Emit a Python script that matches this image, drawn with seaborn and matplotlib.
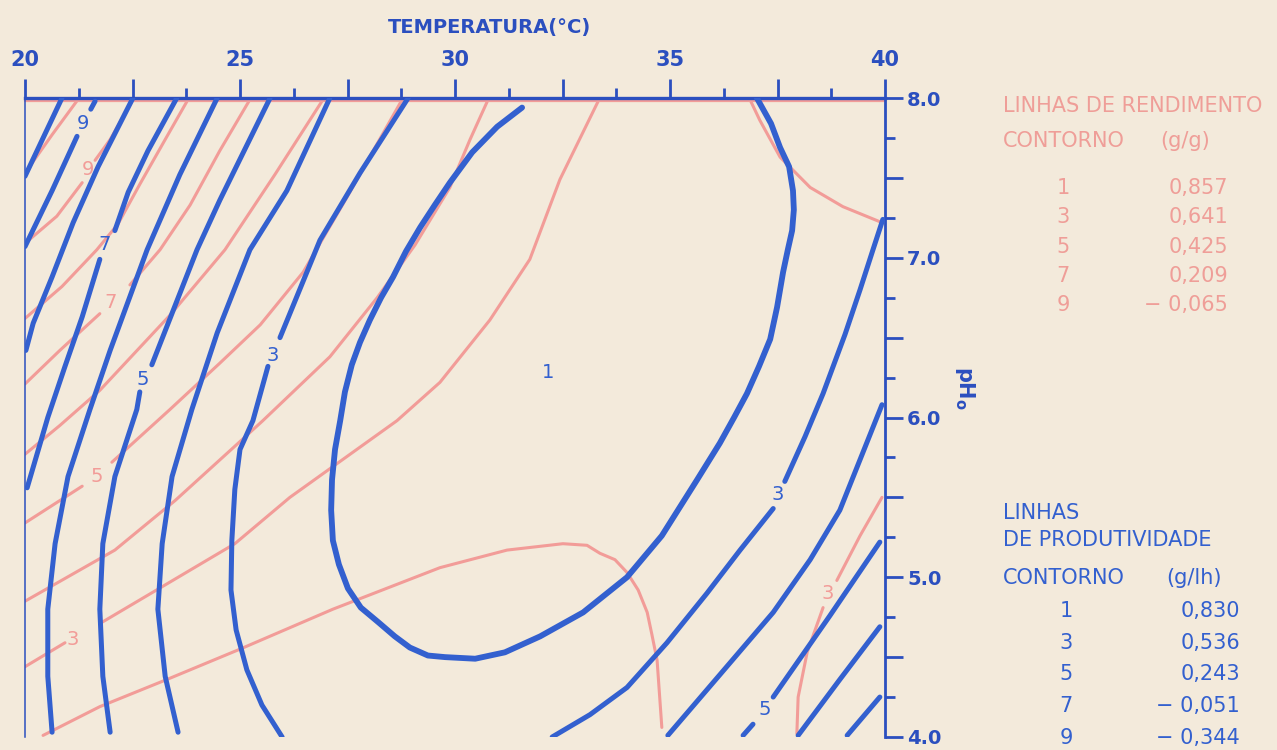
import matplotlib
matplotlib.use("Agg")
import matplotlib.pyplot as plt
from matplotlib.ticker import MultipleLocator, FuncFormatter
import pandas as pd
import seaborn as sns

# ---------------------------------------------------------------
# Productivity contours (g/l h): (temperature degC, initial pH)
# ---------------------------------------------------------------
PROD_10 = [(20.86, 8.00), (20.00, 7.51)]
PROD_9_TOP = [(21.63, 7.98), (21.53, 7.93)]
PROD_9 = [(21.21, 7.76), (20.63, 7.42), (20.00, 7.07)]
PROD_8 = [(22.51, 8.00), (21.70, 7.57), (21.12, 7.22), (20.63, 6.88),
          (20.19, 6.59), (20.02, 6.42)]
PROD_7_TOP = [(23.53, 8.00), (22.86, 7.67), (22.40, 7.41), (22.09, 7.17)]
PROD_7 = [(21.74, 6.99), (21.33, 6.63), (20.93, 6.32), (20.53, 6.00),
          (20.05, 5.56)]
PROD_6 = [(24.47, 8.00), (23.60, 7.52), (22.84, 7.05), (21.98, 6.42),
          (21.51, 6.05), (21.00, 5.63), (20.70, 5.21), (20.53, 4.80),
          (20.53, 4.38), (20.63, 4.03)]
PROD_5_TOP = [(25.70, 8.00), (24.53, 7.36), (24.00, 7.05), (22.95, 6.33)]
PROD_5 = [(22.67, 6.16), (22.60, 6.05), (22.09, 5.63), (21.81, 5.21),
          (21.74, 4.80), (21.81, 4.38), (21.98, 4.03)]
PROD_4 = [(27.09, 8.00), (26.09, 7.42), (25.23, 7.05), (24.47, 6.53),
          (23.88, 6.05), (23.42, 5.63), (23.19, 5.21), (23.09, 4.80),
          (23.26, 4.38), (23.56, 4.03)]
PROD_3_TOP = [(28.91, 8.00), (27.79, 7.53), (26.86, 7.11), (25.93, 6.50)]
PROD_3 = [(25.65, 6.32), (25.30, 5.98), (25.00, 5.80), (24.88, 5.55),
          (24.81, 5.23), (24.79, 4.92), (24.91, 4.67), (25.16, 4.42),
          (25.51, 4.20), (25.98, 4.00)]
PROD_2 = [(31.56, 7.94), (30.98, 7.82), (30.40, 7.66), (29.88, 7.47),
          (29.53, 7.33), (29.19, 7.19), (28.86, 7.04), (28.56, 6.88),
          (28.28, 6.75), (28.02, 6.61), (27.79, 6.47), (27.60, 6.33),
          (27.44, 6.16), (27.33, 5.98), (27.21, 5.80), (27.14, 5.61),
          (27.12, 5.42), (27.16, 5.23), (27.30, 5.08), (27.51, 4.93),
          (27.81, 4.81), (28.21, 4.72), (28.60, 4.63), (28.95, 4.56),
          (29.37, 4.51), (29.77, 4.50), (30.47, 4.49), (31.16, 4.53),
          (31.98, 4.63), (32.98, 4.78), (34.00, 5.00), (34.81, 5.26),
          (35.63, 5.61), (36.16, 5.84), (36.49, 6.00), (36.79, 6.15),
          (37.07, 6.32), (37.33, 6.49), (37.49, 6.69), (37.63, 6.91),
          (37.74, 7.05), (37.84, 7.17), (37.88, 7.30), (37.86, 7.42),
          (37.77, 7.57), (37.56, 7.69), (37.35, 7.84), (37.02, 8.00)]
PROD_3_RIGHT = [(32.26, 4.00), (33.14, 4.14), (34.00, 4.31), (34.93, 4.59),
                (35.86, 4.90), (36.63, 5.17), (37.40, 5.43)]
PROD_3_RIGHT_TOP = [(37.67, 5.60), (38.14, 5.88), (38.56, 6.15),
                    (39.07, 6.52), (39.42, 6.80), (39.72, 7.05),
                    (39.95, 7.24)]
PROD_4_RIGHT = [(34.95, 4.01), (36.16, 4.39), (37.40, 4.78), (38.26, 5.11),
                (38.95, 5.42), (39.47, 5.77), (39.93, 6.08)]
PROD_5_RIGHT = [(39.88, 5.22), (38.72, 4.76), (37.40, 4.25)]
PROD_5_RIGHT_END = [(36.93, 4.08), (36.70, 4.01)]
PROD_6_RIGHT = [(39.88, 4.69), (38.95, 4.36), (37.98, 4.01)]
PROD_7_RIGHT = [(39.88, 4.25), (39.12, 4.01)]

PROD_LABELS = [("9", 21.35, 7.84), ("7", 21.86, 7.08), ("5", 22.74, 6.24),
               ("3", 25.77, 6.39), ("1", 32.16, 6.28), ("3", 37.51, 5.52),
               ("5", 37.21, 4.17)]

# ---------------------------------------------------------------
# Yield contours (g/g)
# ---------------------------------------------------------------
YIELD_10 = [(21.23, 7.99), (20.63, 7.77), (20.00, 7.53)]
YIELD_9_TOP = [(22.51, 7.99), (21.98, 7.74), (21.63, 7.61)]
YIELD_9 = [(21.33, 7.47), (20.74, 7.26), (20.00, 7.09)]
YIELD_8 = [(23.79, 7.99), (23.26, 7.74), (22.67, 7.46), (22.16, 7.21),
           (21.67, 7.05), (20.86, 6.82), (20.00, 6.62)]
YIELD_7_TOP = [(25.23, 7.99), (24.53, 7.67), (23.84, 7.33), (23.14, 7.05),
               (22.44, 6.83)]
YIELD_7 = [(21.74, 6.65), (20.81, 6.42), (20.00, 6.21)]
YIELD_6 = [(26.93, 7.99), (25.81, 7.52), (24.65, 7.05), (23.37, 6.64),
           (21.74, 6.17), (20.81, 5.95), (20.00, 5.77)]
YIELD_5_TOP = [(28.77, 7.99), (27.49, 7.38), (26.47, 6.91), (25.47, 6.58),
               (24.53, 6.34), (23.37, 6.05), (22.02, 5.72)]
YIELD_5 = [(21.33, 5.57), (20.00, 5.34)]
YIELD_4 = [(30.77, 7.99), (30.35, 7.74), (29.88, 7.44), (29.07, 7.08),
           (28.19, 6.75), (27.09, 6.38), (25.53, 5.98), (24.88, 5.82),
           (23.49, 5.48), (22.09, 5.17), (20.00, 4.85)]
YIELD_3_TOP = [(33.33, 7.98), (32.44, 7.49), (31.74, 6.99), (30.81, 6.61),
               (29.65, 6.22), (28.65, 5.98), (26.16, 5.50), (24.88, 5.21),
               (21.74, 4.71)]
YIELD_3 = [(20.93, 4.59), (20.00, 4.44)]
YIELD_2 = [(20.42, 4.01), (21.74, 4.19), (23.30, 4.36), (25.00, 4.55),
           (27.16, 4.80), (29.65, 5.06), (31.21, 5.17), (32.51, 5.21),
           (33.07, 5.20), (33.37, 5.15), (33.72, 5.11), (34.00, 5.03),
           (34.26, 4.92), (34.47, 4.78), (34.58, 4.64), (34.70, 4.48),
           (34.81, 4.06)]
YIELD_ARC = [(36.86, 7.99), (37.09, 7.86), (37.56, 7.63), (38.26, 7.44),
             (39.02, 7.32), (39.93, 7.22)]
YIELD_3_RIGHT_TOP = [(39.93, 5.50), (39.42, 5.26), (38.88, 4.98)]
YIELD_3_RIGHT = [(38.56, 4.81), (38.19, 4.53), (37.98, 4.25), (37.95, 4.02)]

YIELD_LABELS = [("9", 21.47, 7.55), ("7", 21.98, 6.72), ("5", 21.67, 5.63),
                ("3", 21.12, 4.61), ("3", 38.67, 4.90)]

# legend tables
YIELD_LEVELS = ["1", "3", "5", "7", "9"]
YIELD_VALUES = ["0,857", "0,641", "0,425", "0,209", "\u2212 0,065"]
PROD_LEVELS = ["1", "3", "5", "7", "9"]
PROD_VALUES = ["0,830", "0,536", "0,243", "\u2212 0,051", "\u2212 0,344"]

# ---------------------------------------------------------------
BG = "#F3EADB"
BLUE = "#3360CF"
BLUE_DARK = "#2B4FBF"
PINK = "#F29C98"
PINK_TXT = "#EF9E98"

sns.set_theme(style="white")
plt.rcParams["font.family"] = ["DejaVu Sans"]


def to_frame(curves):
    rows = []
    for name, pts in curves.items():
        for t, p in pts:
            rows.append((name, t, p))
    return pd.DataFrame(rows, columns=["curve", "temp", "ph"])


yield_df = to_frame({
    "y10": YIELD_10, "y9t": YIELD_9_TOP, "y9": YIELD_9, "y8": YIELD_8,
    "y7t": YIELD_7_TOP, "y7": YIELD_7, "y6": YIELD_6, "y5t": YIELD_5_TOP,
    "y5": YIELD_5, "y4": YIELD_4, "y3t": YIELD_3_TOP, "y3": YIELD_3,
    "y2": YIELD_2, "yarc": YIELD_ARC, "y3rt": YIELD_3_RIGHT_TOP,
    "y3r": YIELD_3_RIGHT,
})
prod_df = to_frame({
    "p10": PROD_10, "p9t": PROD_9_TOP, "p9": PROD_9, "p8": PROD_8,
    "p7t": PROD_7_TOP, "p7": PROD_7, "p6": PROD_6, "p5t": PROD_5_TOP,
    "p5": PROD_5, "p4": PROD_4, "p3t": PROD_3_TOP, "p3": PROD_3,
    "p3r": PROD_3_RIGHT, "p3rt": PROD_3_RIGHT_TOP, "p4r": PROD_4_RIGHT,
    "p5r": PROD_5_RIGHT, "p5re": PROD_5_RIGHT_END, "p6r": PROD_6_RIGHT,
    "p7r": PROD_7_RIGHT,
})
loop_df = to_frame({"p2": PROD_2})

W, H = 1277, 750
fig = plt.figure(figsize=(W / 100, H / 100), dpi=100, facecolor=BG)
ax = fig.add_axes([25 / W, 13 / H, 860 / W, 639 / H])
ax.set_facecolor(BG)

common = dict(x="temp", y="ph", units="curve", estimator=None, sort=False,
              legend=False, ax=ax, solid_capstyle="round",
              solid_joinstyle="round")
sns.lineplot(data=yield_df, color=PINK, linewidth=2.2, zorder=2, **common)
sns.lineplot(data=prod_df, color=BLUE, linewidth=3.6, zorder=3, **common)
sns.lineplot(data=loop_df, color=BLUE, linewidth=4.2, zorder=3, **common)

for txt, t, p in YIELD_LABELS:
    ax.text(t, p, txt, color=PINK, fontsize=14, ha="center", va="center",
            zorder=4)
for txt, t, p in PROD_LABELS:
    ax.text(t, p, txt, color=BLUE, fontsize=14, ha="center", va="center",
            zorder=4)

ax.set_xlim(20, 40)
ax.set_ylim(4, 8)
ax.set_xlabel("")
ax.set_ylabel("")

# axes frame: top and right carry the scales
ax.xaxis.tick_top()
ax.yaxis.tick_right()
ax.xaxis.set_major_locator(MultipleLocator(2.5))
ax.xaxis.set_minor_locator(MultipleLocator(1.25))
ax.yaxis.set_major_locator(MultipleLocator(0.5))
ax.yaxis.set_minor_locator(MultipleLocator(0.25))
ax.xaxis.set_major_formatter(FuncFormatter(
    lambda v, _: f"{v:.0f}" if abs(v / 5 - round(v / 5)) < 1e-6 else ""))
ax.yaxis.set_major_formatter(FuncFormatter(
    lambda v, _: f"{v:.1f}" if abs(v - round(v)) < 1e-6 else ""))
ax.tick_params(axis="x", which="major", length=14, width=2, pad=6,
               colors=BLUE_DARK, labelsize=15, top=True, bottom=False)
ax.tick_params(axis="x", which="minor", length=7, width=2,
               colors=BLUE_DARK, top=True, bottom=False)
ax.tick_params(axis="y", which="major", length=13, width=2, pad=3,
               colors=BLUE_DARK, labelsize=14, right=True, left=False)
ax.tick_params(axis="y", which="minor", length=7, width=2,
               colors=BLUE_DARK, right=True, left=False)
for lbl in ax.get_xticklabels() + ax.get_yticklabels():
    lbl.set_fontweight("bold")

ax.spines["bottom"].set_visible(False)
ax.spines["top"].set_color(BLUE_DARK)
ax.spines["top"].set_linewidth(2.4)
ax.spines["right"].set_color(BLUE_DARK)
ax.spines["right"].set_linewidth(2.0)
ax.spines["left"].set_color(BLUE_DARK)
ax.spines["left"].set_linewidth(1.1)
# pink frame line printed just under the top edge
ax.plot([0, 1], [0.995, 0.995], transform=ax.transAxes, color=PINK,
        linewidth=1.6, zorder=1, clip_on=False)

fig.text(490 / W, 1 - 27 / H, "TEMPERATURA(\u00b0C)", color=BLUE_DARK,
         fontsize=14, fontweight="bold", ha="center", va="center")
fig.text(965 / W, 1 - 388 / H, r"pH$_\mathregular{o}$", color=BLUE_DARK,
         fontsize=15, fontweight="bold", rotation=-90, ha="center",
         va="center")

# yield legend
fig.text(1003 / W, 1 - 106 / H, "LINHAS DE RENDIMENTO", color=PINK_TXT,
         fontsize=15, ha="left", va="center")
fig.text(1003 / W, 1 - 141 / H, "CONTORNO", color=PINK_TXT, fontsize=15,
         ha="left", va="center")
fig.text(1160 / W, 1 - 141 / H, "(g/g)", color=PINK_TXT, fontsize=15,
         ha="left", va="center")
for i, (lev, val) in enumerate(zip(YIELD_LEVELS, YIELD_VALUES)):
    y = 1 - (188 + 29.3 * i) / H
    fig.text(1063 / W, y, lev, color=PINK_TXT, fontsize=15, ha="center",
             va="center")
    fig.text(1228 / W, y, val, color=PINK_TXT, fontsize=15, ha="right",
             va="center")

# productivity legend
fig.text(1003 / W, 1 - 513 / H, "LINHAS", color=BLUE, fontsize=15,
         ha="left", va="center")
fig.text(1003 / W, 1 - 540 / H, "DE PRODUTIVIDADE", color=BLUE, fontsize=15,
         ha="left", va="center")
fig.text(1003 / W, 1 - 578 / H, "CONTORNO", color=BLUE, fontsize=15,
         ha="left", va="center")
fig.text(1166 / W, 1 - 578 / H, "(g/lh)", color=BLUE, fontsize=15,
         ha="left", va="center")
for i, (lev, val) in enumerate(zip(PROD_LEVELS, PROD_VALUES)):
    y = 1 - (611 + 31.7 * i) / H
    fig.text(1066 / W, y, lev, color=BLUE, fontsize=15, ha="center",
             va="center")
    fig.text(1240 / W, y, val, color=BLUE, fontsize=15, ha="right",
             va="center")

fig.savefig("out.png", dpi=100, facecolor=BG)
